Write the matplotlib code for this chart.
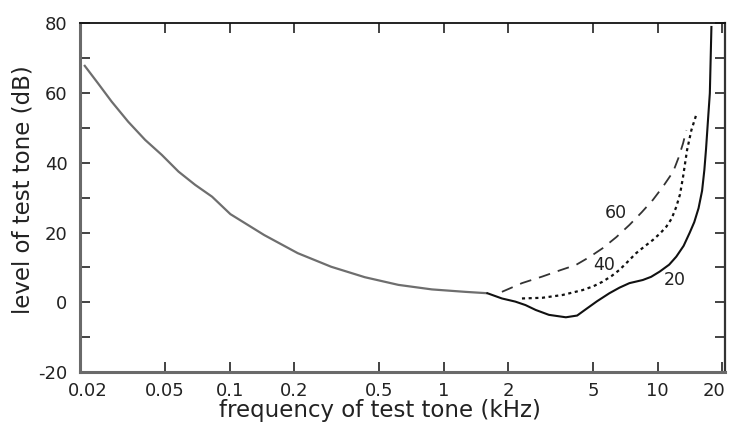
import matplotlib
matplotlib.use("Agg")
import matplotlib.pyplot as plt
import matplotlib.transforms as mtransforms
from matplotlib.ticker import FixedLocator, NullLocator, FixedFormatter

# Threshold in quiet, low-frequency part (gray)
f_low = [0.0209, 0.0243, 0.0281, 0.0336, 0.0403, 0.0482, 0.0577, 0.069, 0.0828, 0.1008,
         0.145, 0.208, 0.298, 0.428, 0.614, 0.88, 1.26, 1.6]
db_low = [68.1, 62.8, 57.6, 51.8, 46.6, 42.3, 37.5, 33.7, 30.3, 25.3,
          19.3, 14.1, 10.2, 7.2, 5.0, 3.7, 3.0, 2.6]

# Masked threshold, 20 dB masker (solid black)
f_20 = [1.6, 1.87, 2.16, 2.41, 2.69, 3.1, 3.72, 4.2, 4.61, 5.2, 5.94, 6.62, 7.37, 8.51,
        9.3, 10.2, 11.3, 12.2, 13.2, 14.1, 14.8, 15.5, 16.1, 16.5, 16.8, 17.2, 17.5, 17.8]
db_20 = [2.6, 1.1, 0.2, -0.8, -2.2, -3.6, -4.3, -3.8, -2.0, 0.3, 2.6, 4.2, 5.5, 6.4,
         7.3, 8.8, 10.8, 13.1, 16.2, 20.0, 23.0, 27.0, 32.0, 38.0, 44.0, 53.3, 60.0, 79.0]

# 40 dB masker (dotted)
f_40 = [2.32, 2.89, 3.59, 4.45, 5.0, 5.52, 6.1, 6.62, 7.25, 7.92, 8.7, 9.49, 10.3,
        10.96, 11.6, 12.2, 12.7, 13.12, 13.7, 14.35, 15.1]
db_40 = [1.1, 1.3, 2.1, 3.5, 4.6, 5.9, 7.6, 9.3, 11.7, 14.1, 16.1, 17.9, 19.9,
         21.7, 24.0, 27.4, 31.0, 36.0, 43.7, 49.4, 53.7]

# 60 dB masker (dashed)
f_60 = [1.87, 2.32, 2.89, 3.5, 4.14, 4.8, 5.52, 6.4, 7.37, 8.4, 9.49, 10.6, 11.8,
        12.5, 13.12, 13.6]
db_60 = [3.0, 5.5, 7.4, 9.2, 10.7, 13.0, 15.5, 18.7, 22.2, 25.8, 29.4, 33.3, 37.5,
         41.5, 45.6, 49.4]

curve_labels = ["60", "40", "20"]
label_f = [6.38, 5.63, 12.0]
label_db = [25.5, 10.7, 6.4]

xticks = [0.02, 0.05, 0.1, 0.2, 0.5, 1, 2, 5, 10, 20]
xticklabels = ["0.02", "0.05", "0.1", "0.2", "0.5", "1", "2", "5", "10", "20"]
yticks = [-20, 0, 20, 40, 60, 80]
yminor = [-10, 10, 30, 50, 70]

plt.rcParams['font.family'] = ['DejaVu Sans']
plt.rcParams['axes.unicode_minus'] = False
fig = plt.figure(figsize=(7.33, 4.30), dpi=100)
ax = fig.add_axes([80/733, 1-372/430, 645/733, 348.5/430])

ax.plot(f_low, db_low, color='#6e6e6e', lw=1.6, solid_capstyle='butt')
ax.plot(f_20, db_20, color='#111111', lw=1.5)
ax.plot(f_40, db_40, color='#111111', lw=1.6, linestyle=(0, (1.4, 1.6)))
ax.plot(f_60, db_60, color='#333333', lw=1.3, linestyle=(0, (6.5, 4.5)))

for t, xf, yd in zip(curve_labels, label_f, label_db):
    ax.text(xf, yd, t, fontsize=12.5, ha='center', va='center', color='#222222')

ax.set_xscale('log')
ax.set_xlim(0.02, 20.6)
ax.set_ylim(-20, 80)
ax.xaxis.set_major_locator(FixedLocator(xticks))
ax.xaxis.set_major_formatter(FixedFormatter(xticklabels))
ax.xaxis.set_minor_locator(NullLocator())
ax.yaxis.set_major_locator(FixedLocator(yticks))
ax.yaxis.set_minor_locator(FixedLocator(yminor))

ax.tick_params(axis='both', which='both', direction='in', top=True, right=True,
               length=7, width=1.2, colors='#222222', labelsize=13, labelcolor='#222222')
ax.tick_params(axis='x', pad=7)
ax.tick_params(axis='y', pad=9)

# nudge the outermost x tick labels inwards, as in the reference
ticks = ax.xaxis.get_major_ticks()
for tk, dx in ((ticks[0], 8), (ticks[-1], -8)):
    off = mtransforms.ScaledTranslation(dx / 100, 0, fig.dpi_scale_trans)
    tk.label1.set_transform(tk.label1.get_transform() + off)

ax.spines['left'].set_color('#6a6a6a')
ax.spines['bottom'].set_color('#6a6a6a')
ax.spines['left'].set_linewidth(2.2)
ax.spines['bottom'].set_linewidth(2.2)
ax.spines['top'].set_color('#111111')
ax.spines['right'].set_color('#333333')
ax.spines['top'].set_linewidth(1.3)
ax.spines['right'].set_linewidth(1.6)

xl = ax.set_xlabel("frequency of test tone (kHz)", fontsize=16.5, color='#222222')
xl.set_va('center')
ax.xaxis.set_label_coords((380 - 80) / 645, (372 - 410) / 348.5)
yl = ax.set_ylabel("level of test tone (dB)", fontsize=16.5, color='#222222')
yl.set_va('center')
ax.yaxis.set_label_coords((23 - 80) / 645, (372 - 190) / 348.5)

fig.savefig("out.png", dpi=100)
